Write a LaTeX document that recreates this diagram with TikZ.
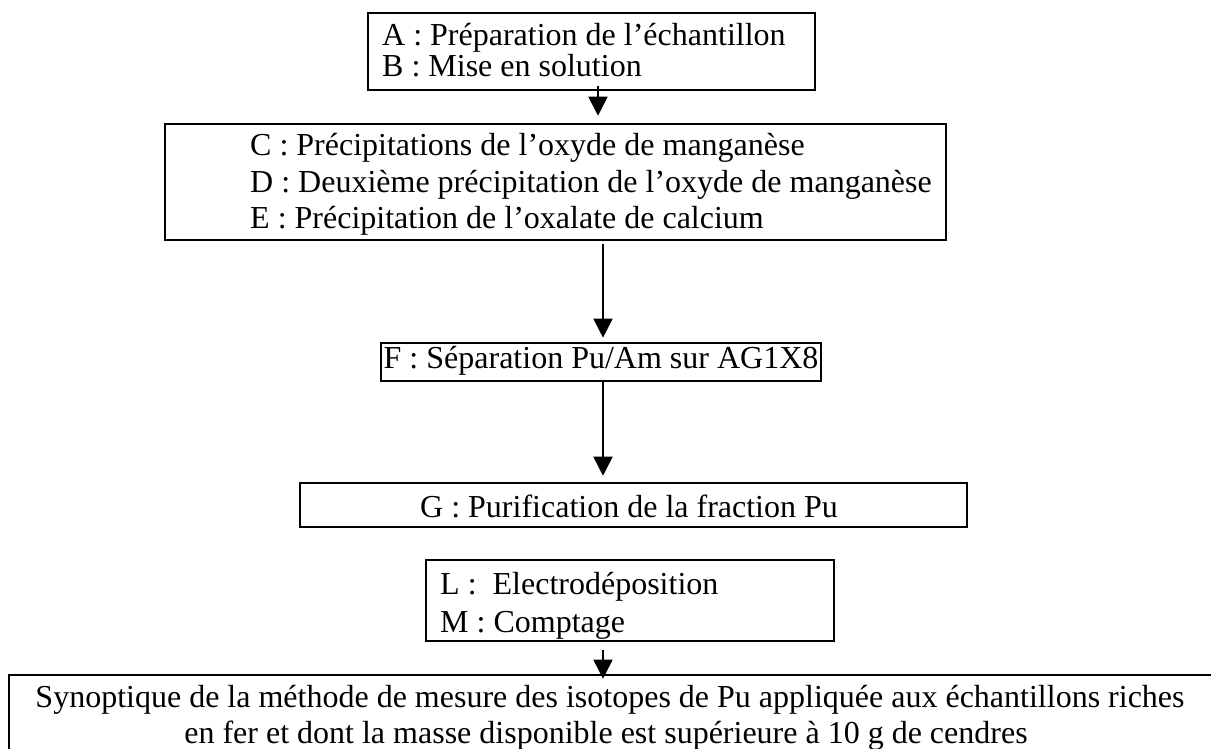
\documentclass[tikz,border=0pt]{standalone}
\usepackage{fontspec}
\setmainfont{Liberation Serif}
\usetikzlibrary{arrows.meta,calc}
\begin{document}
\begin{tikzpicture}[x=1pt,y=-1pt,
  box/.style={draw, line width=2.6pt, inner sep=0pt},
  txt/.style={font=\fontsize{32}{36}\selectfont, inner sep=0pt, anchor=base west},
  ctxt/.style={txt, anchor=base},
  arr/.style={line width=1.8pt, -{Triangle[width=19pt,length=19pt]}}]
\useasboundingbox (0,0) rectangle (1211,749);
\clip (0,0) rectangle (1211,749);

% boxes
\node[box, minimum width=447, minimum height=77]  (ab)  at (591.5,51.5) {};
\node[box, minimum width=781, minimum height=116] (cde) at (555.5,182) {};
\node[box, minimum width=440, minimum height=38]  (f)   at (601,362) {};
\node[box, minimum width=667, minimum height=44]  (g)   at (633.5,505) {};
\node[box, minimum width=408, minimum height=81]  (lm)  at (630,600.5) {};
\node[box, minimum width=1231, minimum height=125] (syn) at (624.5,737.5) {};

% texts
\node[txt] (la) at (382,46) {A : Préparation de l’échantillon};
\node[txt] (lb) at (382,77) {B : Mise en solution};
\node[txt] (lc) at (250,156) {C : Précipitations de l’oxyde de manganèse};
\node[txt] (ld) at (250,193) {D : Deuxième précipitation de l’oxyde de manganèse};
\node[txt] (le) at (250,229) {E : Précipitation de l’oxalate de calcium};
\node[txt] (lf) at (383.5,368) {F : Séparation Pu/Am sur AG1X8};
\node[txt] (lg) at (420,517) {G : Purification de la fraction Pu};
\node[txt] (ll) at (440,594) {L :\ \ Electrodéposition};
\node[txt] (lmm) at (440,632) {M : Comptage};
\node[ctxt] (s1) at (610,707) {Synoptique de la méthode de mesure des isotopes de Pu appliquée aux échantillons riches};
\node[ctxt] (s2) at (606,743) {en fer et dont la masse disponible est supérieure à 10 g de cendres};

% flow arrows
\coordinate (c1) at (598,0);
\coordinate (c2) at (603,0);
\draw[arr] ($(ab.south -| c1)+(0,-5)$) -- ($(cde.north -| c1)+(0,-7)$);
\draw[arr] ($(cde.south -| c2)+(0,3)$) -- ($(f.north -| c2)+(0,-4)$);
\draw[arr] (f.south -| c2) -- ($(g.north -| c2)+(0,-6)$);
\draw[arr] ($(lm.south -| c2)+(0,8)$) -- ($(syn.north -| c2)+(0,5)$);
\end{tikzpicture}
\end{document}
